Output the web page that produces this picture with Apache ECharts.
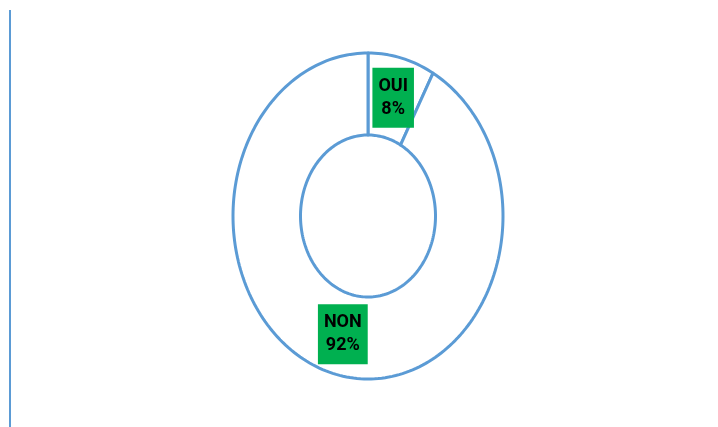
<!DOCTYPE html>
<html>
<head>
<meta charset="utf-8">
<script src="https://cdn.jsdelivr.net/npm/echarts@6/dist/echarts.min.js"></script>
<style>
  html, body { margin: 0; padding: 0; background: #fff; }
  #chart { width: 718px; height: 427px; }
</style>
</head>
<body>
<div id="chart"></div>
<script>
// data
const categories = ['OUI', 'NON'];
const shares = [8, 92];

const total = shares.reduce((a, b) => a + b, 0);
const seriesData = [];
let acc = 0;
shares.forEach((v, i) => {
    seriesData.push([i, v, acc]);
    acc += v;
});

// the doughnut is stretched vertically in the original, so draw elliptical sectors
const ring = { cx: 368, cy: 216, rxOut: 135, ryOut: 163, rxIn: 67.5, ryIn: 81 };

function sectorPoints(a0, a1) {
    const pts = [];
    const n = Math.max(4, Math.ceil((a1 - a0) / (Math.PI / 120)));
    for (let i = 0; i <= n; i++) {
        const a = a0 + (a1 - a0) * i / n;
        pts.push([ring.cx + ring.rxOut * Math.sin(a), ring.cy - ring.ryOut * Math.cos(a)]);
    }
    for (let i = n; i >= 0; i--) {
        const a = a0 + (a1 - a0) * i / n;
        pts.push([ring.cx + ring.rxIn * Math.sin(a), ring.cy - ring.ryIn * Math.cos(a)]);
    }
    return pts;
}

function renderItem(params, api) {
    const idx = api.value(0);
    const value = api.value(1);
    const start = api.value(2);
    const a0 = start / total * Math.PI * 2;
    const a1 = (start + value) / total * Math.PI * 2;
    const mid = (a0 + a1) / 2;
    const lx = ring.cx + (ring.rxOut + ring.rxIn) / 2 * Math.sin(mid);
    const ly = ring.cy - (ring.ryOut + ring.ryIn) / 2 * Math.cos(mid);
    const pct = Math.round(value / total * 100);
    return {
        type: 'group',
        children: [{
            type: 'polygon',
            z2: 1,
            shape: { points: sectorPoints(a0, a1) },
            style: { fill: '#ffffff', stroke: '#5B9BD5', lineWidth: 3, lineJoin: 'round' }
        }, {
            type: 'text',
            z2: 100,
            x: lx,
            y: ly,
            style: {
                text: categories[idx] + '\n' + pct + '%',
                fill: '#000',
                font: 'bold 18px Roboto',
                lineHeight: 23,
                align: 'center',
                verticalAlign: 'middle',
                backgroundColor: '#00B050',
                padding: [7, 6]
            }
        }]
    };
}

const myChart = echarts.init(document.getElementById('chart'));
myChart.setOption({
    backgroundColor: '#ffffff',
    animation: false,
    graphic: [{
        type: 'line',
        shape: { x1: 10, y1: 10, x2: 10, y2: 427 },
        style: { stroke: '#5B9BD5', lineWidth: 2 }
    }],
    series: [{
        type: 'custom',
        coordinateSystem: 'none',
        renderItem: renderItem,
        data: seriesData
    }]
});

window.addEventListener('resize', () => myChart.resize());
</script>
</body>
</html>
